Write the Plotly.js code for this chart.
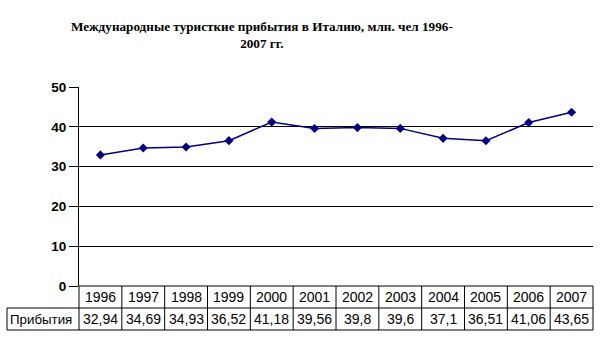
<!DOCTYPE html>
<html><head><meta charset="utf-8">
<script src="https://cdn.plot.ly/plotly-3.0.1.min.js"></script>
<style>html,body{margin:0;padding:0;background:#fff}#c{width:609px;height:348px}</style>
</head><body><div id="c"></div>
<script>
const years = ['1996','1997','1998','1999','2000','2001','2002','2003','2004','2005','2006','2007'];
const arrivals = [32.94,34.69,34.93,36.52,41.18,39.56,39.8,39.6,37.1,36.51,41.06,43.65];
const rowLabel = 'Прибытия';
const titleText = 'Международные туристкие прибытия в Италию, млн. чел 1996-<br>2007 гг.';
const yTicks = [0,10,20,30,40,50];

const n = years.length;
const plotL = 79, plotR = 16, plotT = 87, plotB = 62;
const plotW = 609 - plotL - plotR, plotH = 348 - plotT - plotB;
const row1 = -22/plotH, row2 = -44/plotH;
const labelLeft = (7 - plotL)/plotW;

const shapes = [];
const line = {color:'#000', width:1};
shapes.push({type:'line', xref:'paper', yref:'paper', x0:0, x1:1, y0:0, y1:0, line});
shapes.push({type:'line', xref:'paper', yref:'paper', x0:labelLeft, x1:1, y0:row1, y1:row1, line});
shapes.push({type:'line', xref:'paper', yref:'paper', x0:labelLeft, x1:1, y0:row2, y1:row2, line});
shapes.push({type:'line', xref:'paper', yref:'paper', x0:labelLeft, x1:labelLeft, y0:row1, y1:row2, line});
for (let i = 0; i <= n; i++) {
  const xp = i / n;
  shapes.push({type:'line', xref:'paper', yref:'paper', x0:xp, x1:xp, y0:0, y1:row2, line});
}

const annotations = [];
const cellFont = {family:'Liberation Sans, Arial, sans-serif', size:14, color:'#000'};
const labelFont = {family:'Liberation Sans, Arial, sans-serif', size:13.3, color:'#000'};
years.forEach((y, i) => {
  annotations.push({xref:'x', yref:'paper', x:i, y:row1/2, text:y, showarrow:false, font:cellFont, xanchor:'center', yanchor:'middle'});
  annotations.push({xref:'x', yref:'paper', x:i, y:(row1+row2)/2, text:String(arrivals[i]).replace('.', ','), showarrow:false, font:cellFont, xanchor:'center', yanchor:'middle'});
});
annotations.push({xref:'paper', yref:'paper', x:labelLeft + 1/plotW, y:(row1+row2)/2, text:rowLabel, showarrow:false, font:labelFont, xanchor:'left', yanchor:'middle'});

const trace = {
  x: years, y: arrivals, type:'scatter', mode:'lines+markers',
  line:{color:'#000080', width:1.5},
  marker:{symbol:'diamond', size:7, color:'#000080'},
  cliponaxis:false, hoverinfo:'none'
};

const layout = {
  width:609, height:348,
  margin:{l:plotL, r:plotR, t:plotT, b:plotB},
  paper_bgcolor:'#fff', plot_bgcolor:'#fff',
  showlegend:false,
  title:{text:titleText, x:0.43, xanchor:'center', y:0.91, yanchor:'top',
    font:{family:'Liberation Serif, Times New Roman, serif', size:13.2, color:'#000', weight:'bold'}},
  xaxis:{type:'category', range:[-0.5, n-0.5], showticklabels:false, ticks:'', showgrid:false, zeroline:false, showline:false, fixedrange:true},
  yaxis:{range:[0,50], tickvals:yTicks, ticks:'outside', ticklen:9, tickcolor:'#000', tickwidth:1,
    showline:true, linecolor:'#000', linewidth:1, showgrid:true, gridcolor:'#000', gridwidth:1, zeroline:false,
    tickfont:{family:'Liberation Sans, Arial, sans-serif', size:13.5, color:'#000', weight:'bold'}, fixedrange:true},
  shapes, annotations
};
Plotly.newPlot('c', [trace], layout, {staticPlot:true, displayModeBar:false});
</script></body></html>
